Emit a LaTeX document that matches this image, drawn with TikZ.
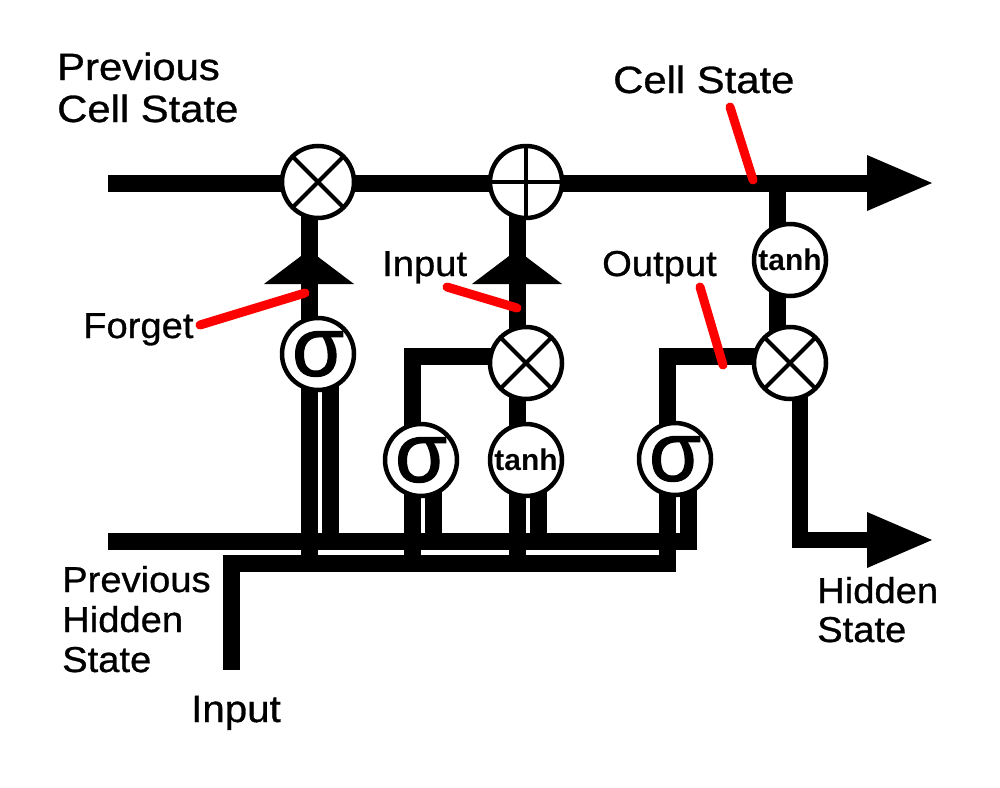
\documentclass[tikz,border=0pt]{standalone}
\usepackage{fontspec}
\setmainfont{Liberation Sans}
\newfontfamily\biglabfont[FakeStretch=1.1,FakeBold=0.8]{Liberation Sans}
\newfontfamily\labfont[FakeStretch=1.06,FakeBold=0.8]{Liberation Sans}
\newfontfamily\sigfont[FakeBold=1.5]{Liberation Sans}
\usetikzlibrary{arrows.meta}
\definecolor{pointred}{RGB}{255,0,0}
\begin{document}
\begin{tikzpicture}[x=1pt,y=-1pt,
  wire/.style={line width=17pt, line join=miter, line cap=butt},
  bigarrow/.style={-{Triangle[length=65pt,width=56pt,line width=0pt]}},
  gate/.style={circle, draw, line width=4.5pt, fill=white, minimum size=72pt, inner sep=0pt},
  mult/.style={gate, path picture={\draw[line width=4pt]
      (path picture bounding box.north west) -- (path picture bounding box.south east)
      (path picture bounding box.north east) -- (path picture bounding box.south west);}},
  add/.style={gate, path picture={\draw[line width=4pt]
      (path picture bounding box.north) -- (path picture bounding box.south)
      (path picture bounding box.west) -- (path picture bounding box.east);}},
  sig/.style={gate, font=\sigfont\fontsize{84}{84}\selectfont},
  tanhg/.style={gate, font=\bfseries\fontsize{30}{30}\selectfont},
  pointer/.style={draw=pointred, line width=9pt, line cap=round},
  lab/.style={font=\labfont\fontsize{36}{40}\selectfont, anchor=base west, inner sep=0pt},
  biglab/.style={font=\biglabfont\fontsize{38}{42}\selectfont, anchor=base west, inner sep=0pt},
  uphead/.style={fill=black}
]
\useasboundingbox[fill=white] (0,0) rectangle (1000,787);

% gate nodes (placed first so wires can refer to them; redrawn on top later)
\path
  node[mult, draw=none, fill=none] (fx) at (318,182) {}
  node[add, draw=none, fill=none] (ip) at (526,182) {}
  node[gate, draw=none, fill=none] (tanho) at (790,260) {}
  node[mult, draw=none, fill=none] (ox) at (790,363) {}
  node[gate, draw=none, fill=none] (sf) at (318,354) {}
  node[mult, draw=none, fill=none] (ix) at (526,363) {}
  node[gate, draw=none, fill=none] (si) at (421,460) {}
  node[gate, draw=none, fill=none] (ti) at (526,460) {}
  node[gate, draw=none, fill=none] (so) at (675,459) {};

% free ends
\coordinate (cellStart) at (108,183);
\coordinate (cellEnd) at (932,183);
\coordinate (hidStart) at (108,541);
\coordinate (hidEnd) at (697,541);
\coordinate (inStart) at (231,670);
\coordinate (inCorner) at (231,563);
\coordinate (inEnd) at (676,563);
\coordinate (hidOutEnd) at (932,540);
\coordinate (lowEdge) at (0,572);
\coordinate (hidEdge) at (0,549);

% buses
\draw[wire] (hidStart) -- (hidEnd);
\draw[wire] (inStart) -- (inCorner) -- (inEnd);
\draw[wire, bigarrow] (cellStart) -- (cellEnd);

% forget gate
\draw[wire] ([xshift=-9pt]fx.center) -- ([xshift=-9pt]fx.center |- lowEdge);
\draw[wire] ([xshift=12pt]sf.center) -- ([xshift=12pt]sf.center |- hidEdge);

% input gate
\draw[wire] ([xshift=-9pt]si.center |- lowEdge) -- ([xshift=-9pt]si.center |- 0,356) -- ([yshift=7pt]ix.center);
\draw[wire] ([xshift=12pt]si.center) -- ([xshift=12pt]si.center |- hidEdge);

% candidate (tanh) path
\draw[wire] ([xshift=-9pt]ip.center) -- ([xshift=-9pt]ip.center |- lowEdge);
\draw[wire] ([xshift=12pt]ti.center) -- ([xshift=12pt]ti.center |- hidEdge);

% output gate
\draw[wire] ([xshift=-8pt]so.center |- lowEdge) -- ([xshift=-8pt]so.center |- 0,356) -- ([yshift=7pt]ox.center);
\draw[wire] ([xshift=13pt]so.center) -- ([xshift=13pt]so.center |- hidEdge);

% output column
\draw[wire] ([xshift=-13pt]tanho.center |- cellStart) -- ([xshift=-13pt]ox.center);
\draw[wire, line width=16pt, bigarrow] ([xshift=10pt]ox.center) -- ([xshift=10pt]ox.center |- hidOutEnd) -- (hidOutEnd);

% upward arrowheads
\fill[uphead] (309,250) -- (354,284) -- (264,284) -- cycle;
\fill[uphead] (517,250) -- (562,284) -- (472,284) -- cycle;

% gates drawn on top
\node[mult] (fx) at (318,182) {};
\node[add] (ip) at (526,182) {};
\node[tanhg] (tanho) at (790,260) {tanh};
\node[mult] (ox) at (790,363) {};
\node[sig] (sf) at (318,354) {σ};
\node[mult] (ix) at (526,363) {};
\node[sig] (si) at (421,460) {σ};
\node[tanhg] (ti) at (526,460) {tanh};
\node[sig] (so) at (675,459) {σ};

% labels
\node[biglab] (pcs1) at (57,80) {Previous};
\node[biglab] (pcs2) at (57,122) {Cell State};
\node[biglab] (cslab) at (613,93) {Cell State};
\node[lab] (forgetlab) at (83,338) {Forget};
\node[lab] (inputlab) at (382,276) {Input};
\node[lab] (outputlab) at (602,276) {Output};
\node[lab] (phs1) at (62,592) {Previous};
\node[lab] (phs2) at (62,632) {Hidden};
\node[lab] (phs3) at (62,672) {State};
\node[lab, font=\labfont\fontsize{38}{42}\selectfont] (inbotlab) at (191,722) {Input};
\node[lab] (hs1) at (817,603) {Hidden};
\node[lab] (hs2) at (817,642) {State};

% red pointers
\coordinate (pF1) at (200,325); \coordinate (pF2) at (305,293);
\coordinate (pI1) at (447,287); \coordinate (pI2) at (517,308);
\coordinate (pO1) at (700,287); \coordinate (pO2) at (723,365);
\coordinate (pC1) at (730,107); \coordinate (pC2) at (753,180);
\draw[pointer] (pF1) -- (pF2);
\draw[pointer] (pI1) -- (pI2);
\draw[pointer] (pO1) -- (pO2);
\draw[pointer] (pC1) -- (pC2);
\end{tikzpicture}
\end{document}
